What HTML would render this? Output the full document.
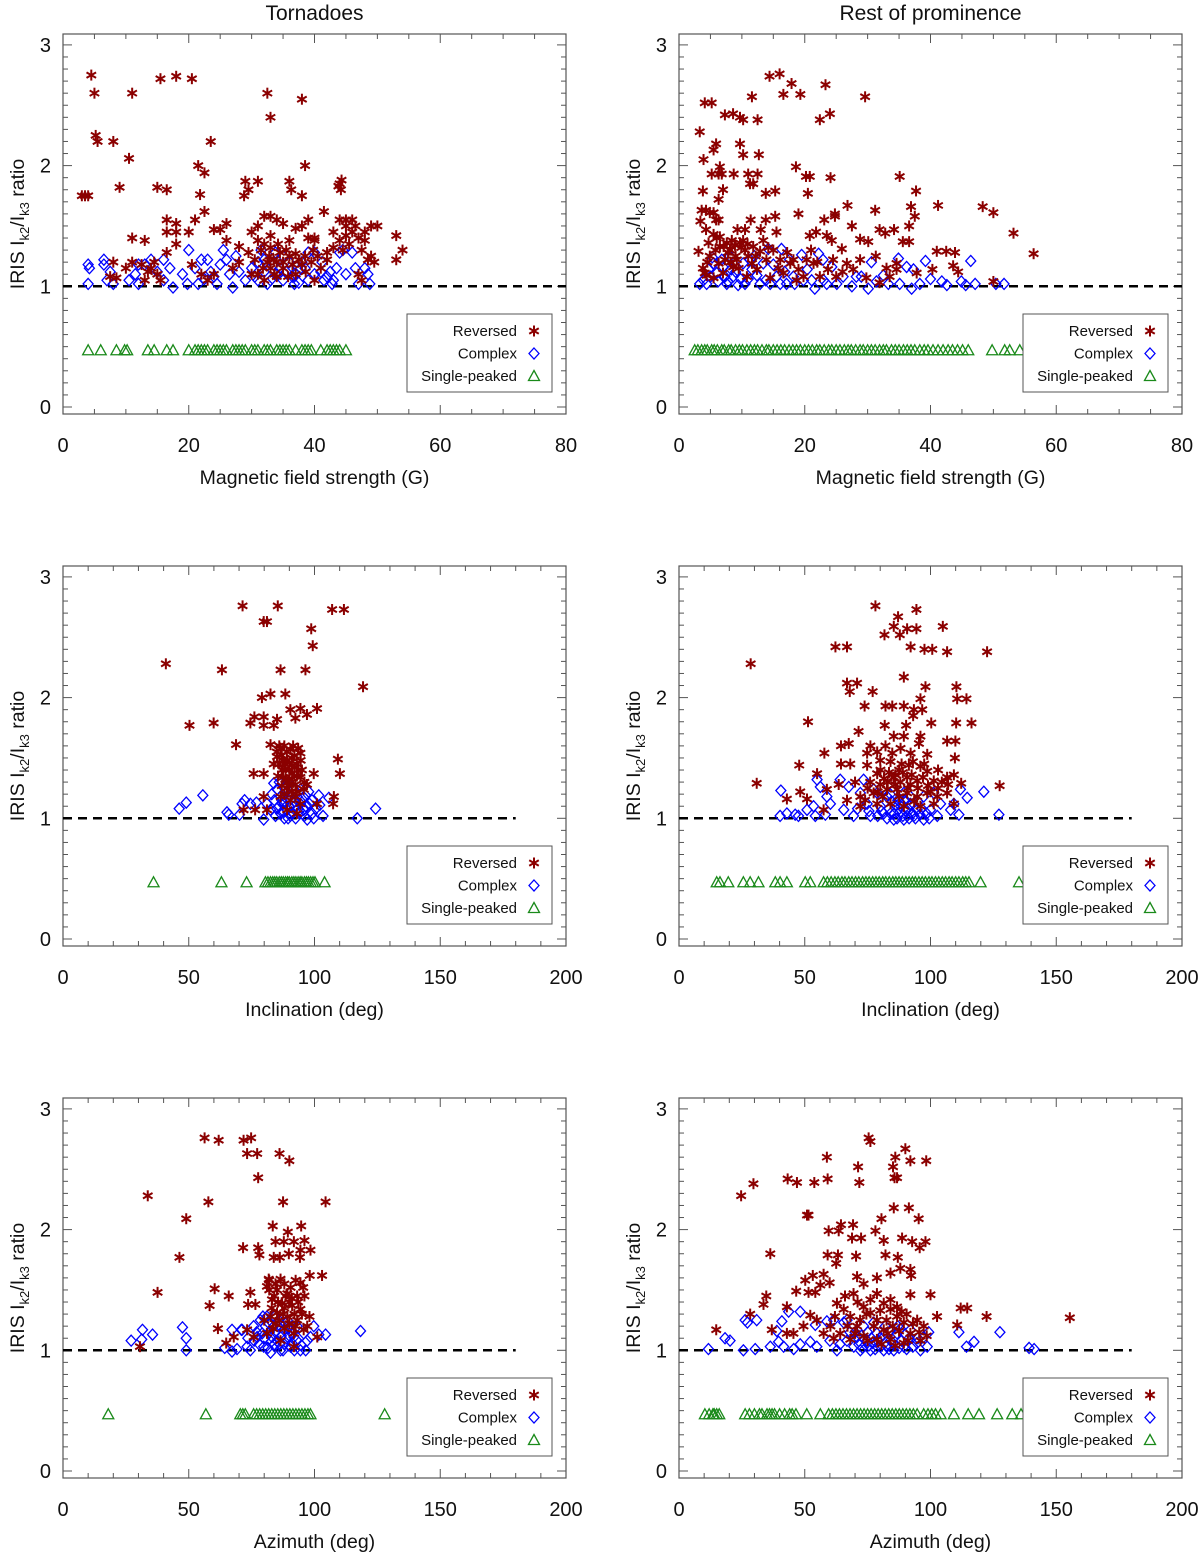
<!DOCTYPE html>
<html><head><meta charset="utf-8"><style>
html,body{margin:0;padding:0;background:#fff;}
svg{display:block;font-family:"Liberation Sans",Arial,sans-serif;}
</style></head><body>
<svg id="chart" width="1200" height="1556" viewBox="0 0 1200 1556" xmlns="http://www.w3.org/2000/svg"></svg>
<script>
// ---------- Panel 1: Tornadoes, magnetic field strength ----------
const p1Rev = [[4.5,2.75],[5,2.6],[5.2,2.25],[5.5,2.2],[8,2.2],[3,1.75],[4,1.75],[3.5,1.75],[9,1.82],[10.5,2.06],[11,2.6],[15.5,2.72],[18,2.74],[20.5,2.72],[15,1.82],[16.5,1.8],[23.5,2.2],[21.5,2.0],[22.5,1.94],[21.8,1.76],[32.5,2.6],[33,2.4],[38,2.55],[38.5,2.0],[29,1.87],[29.5,1.8],[31,1.87],[36,1.87],[36.3,1.8],[38,1.75],[44,1.85],[44.2,1.8],[44.3,1.88],[43.8,1.83],[28.8,1.75],[22.5,1.62],[41.5,1.62],[16.5,1.55],[18,1.52],[21,1.55],[26,1.52],[24,1.47],[25,1.47],[16.5,1.45],[18,1.45],[20,1.45],[11,1.4],[13,1.38],[18,1.35],[26,1.38],[28,1.33],[16.5,1.28],[30,1.45],[31,1.5],[32,1.58],[33,1.58],[34,1.55],[35,1.52],[37,1.48],[38,1.5],[39,1.55],[40,1.4],[40,1.38],[39,1.4],[36,1.38],[33,1.42],[31,1.38],[32,1.35],[29.5,1.28],[34.5,1.28],[36,1.25],[37,1.27],[38.5,1.25],[42,1.28],[43,1.32],[44,1.38],[44,1.55],[45,1.55],[46,1.55],[45,1.5],[46.5,1.5],[47,1.4],[48,1.45],[48,1.38],[49,1.5],[50,1.5],[48.5,1.22],[49.5,1.2],[49,1.25],[53,1.42],[54,1.3],[53,1.22],[45,1.42],[43,1.45],[42,1.22],[35,1.2],[33,1.15],[31,1.1],[30,1.1],[10,1.15],[11,1.2],[8,1.2],[14,1.15],[15,1.1],[13,1.05],[7.5,1.08],[8.5,1.07],[20.5,1.18],[22,1.1],[23,1.05],[24,1.1],[27,1.15],[28,1.2],[41,1.15],[47,1.1],[47.5,1.05],[40,1.05],[37,1.1],[34,1.08],[32,1.05],[33.5,1.22],[35.5,1.3],[32.5,1.2],[38,1.18],[39.5,1.2],[31.5,1.3],[32.8,1.25],[34,1.2],[35,1.15],[36.5,1.18],[37.5,1.22],[33,1.32],[34.2,1.35],[30.5,1.22],[31.8,1.15],[33.6,1.1],[35.8,1.08],[38.6,1.12],[39.8,1.3],[40.5,1.25],[14.5,1.2],[13.5,1.12],[12.5,1.18],[15.5,1.05],[45.5,1.35],[46,1.45],[44.5,1.3],[47.5,1.3]];
const p1Cpx = [[4,1.18],[4.2,1.15],[4,1.02],[6.5,1.22],[6.5,1.18],[7,1.05],[7.5,1.12],[8,1.02],[10.5,1.05],[11.5,1.1],[12,1.18],[12,1.02],[13,1.18],[14,1.22],[15,1.12],[16,1.22],[16,1.05],[17,1.15],[17.5,0.99],[19,1.1],[19.8,1.02],[20,1.3],[21,1.15],[21.5,1.02],[22,1.22],[23,1.22],[23.5,1.12],[24,1.08],[25,1.18],[25.5,1.3],[26,1.22],[26.5,1.1],[27,0.99],[27.5,1.25],[28,1.12],[29,1.05],[30,1.15],[31,1.2],[31,1.05],[31.5,1.3],[32,1.22],[32,1.12],[33,1.05],[33.5,1.18],[34,1.1],[35,1.25],[35,1.05],[36,1.15],[36.5,1.08],[37,1.1],[37.5,1.03],[38,1.2],[38.5,1.15],[39,1.28],[40,1.28],[40,1.1],[41,1.12],[41.5,1.05],[42,1.08],[42.5,1.12],[43,1.05],[43.5,1.15],[44,1.28],[44.5,1.3],[45,1.1],[46,1.28],[46.5,1.15],[47,1.02],[48,1.15],[48.5,1.1],[48.8,1.02],[34.5,1.15],[36,1.2],[39,1.05],[30.5,1.08],[32.5,1.02],[33.8,1.28],[36.8,1.02],[37.8,1.15],[35.5,1.12],[41.2,1.2],[42.8,1.02],[24.5,1.02],[22.5,1.06]];
const p1Sgl = [4,6,8.5,9.8,10.2,13.5,14.5,16.5,17.5,20,21,21.5,22,22.5,23,24,24.5,25,25.5,26,27,27.5,28,28.5,29,30,30.5,31,32,32.5,33,34,34.5,35,35.5,36,37,38,38.5,39,39.5,41,42,42.5,43,43.5,44,45];

// ---------- Panel 2: Rest of prominence, magnetic field strength ----------
const p2Rev = [[3.3,2.28],[4.1,2.52],[5.2,2.52],[3.9,2.05],[5.5,2.13],[5.9,2.18],[7.3,2.42],[8.6,2.43],[9.7,2.4],[10.2,2.38],[11.6,2.57],[12.5,2.38],[14.4,2.74],[16,2.76],[17.9,2.68],[16.6,2.59],[19.3,2.59],[23.3,2.67],[22.4,2.38],[24,2.43],[29.6,2.57],[9.7,2.18],[10.2,2.09],[12.7,2.09],[18.6,1.99],[6.5,1.99],[6.8,1.93],[5.2,1.93],[6.3,1.93],[8.7,1.93],[11,1.93],[12.5,1.93],[11.3,1.85],[11.8,1.85],[20.2,1.91],[20.8,1.91],[24.1,1.9],[3.8,1.79],[7,1.8],[6.3,1.72],[13.8,1.77],[15.3,1.79],[20.5,1.77],[35.1,1.91],[37.7,1.79],[3.6,1.63],[4.3,1.63],[4.9,1.61],[5.5,1.61],[5.9,1.55],[6.3,1.55],[3.4,1.54],[4.3,1.47],[11.4,1.55],[13.8,1.55],[15.3,1.58],[19,1.6],[23.1,1.55],[24.8,1.6],[24.8,1.58],[26.8,1.67],[31.2,1.63],[36.9,1.66],[37.5,1.58],[41.2,1.67],[48.3,1.66],[50,1.61],[53.2,1.44],[56.4,1.27],[9.3,1.47],[10.5,1.47],[13,1.47],[15.5,1.45],[20.8,1.42],[21.8,1.45],[23.5,1.42],[24.3,1.38],[27.5,1.5],[31.9,1.47],[32.8,1.44],[34.2,1.47],[36.6,1.5],[28.8,1.39],[30.1,1.37],[35.6,1.37],[36.6,1.37],[25.9,1.31],[41,1.29],[42.5,1.29],[43.9,1.28],[43.6,1.17],[44.4,1.12],[40.3,1.14],[31.3,1.25],[33,1.15],[34.6,1.19],[37.8,1.11],[50,1.04],[3.1,1.29],[4.7,1.36],[5.5,1.43],[6,1.4],[6.5,1.33],[4.9,1.25],[7.6,1.36],[8.1,1.3],[8.9,1.34],[9.7,1.36],[10.5,1.3],[11,1.25],[11.8,1.33],[12.9,1.29],[13.9,1.22],[15,1.3],[16.1,1.22],[17.7,1.19],[19,1.14],[20.3,1.22],[21.4,1.19],[22.4,1.08],[23.7,1.14],[25,1.08],[26.7,1.19],[27.7,1.14],[28.8,1.22],[29.8,1.07],[31.9,1.03],[33.5,1.08],[34.6,1.14],[6.3,1.19],[7,1.11],[8.6,1.16],[10.8,1.08],[12.4,1.14],[14.5,1.07],[16.6,1.11],[18.7,1.05],[4.4,1.09],[4.1,1.11],[5.5,1.07],[7.3,1.22],[9.2,1.22],[10.2,1.38],[11.6,1.19],[13.4,1.38],[6.5,1.41],[7.8,1.28],[8.4,1.38],[9,1.25],[9.9,1.32],[10.9,1.35],[12.2,1.25],[7.1,1.33],[8.2,1.2],[9.5,1.15],[5.8,1.3],[4.5,1.2],[3.8,1.15],[14.2,1.32],[15.8,1.15],[17.2,1.28],[18.2,1.22],[19.8,1.08],[21,1.3],[22,1.2],[24.5,1.22],[26,1.12]];
const p2Cpx = [[3.3,1.02],[3.9,1.05],[4.4,1.02],[5.5,1.19],[6,1.11],[6.8,1.22],[7.6,1.02],[8.1,1.25],[8.6,1.08],[9.4,1.01],[10.2,1.19],[10.5,1.02],[11.6,1.14],[12.9,1.02],[14.2,1.31],[14.5,1.02],[15.5,1.08],[16.3,1.31],[16.1,1.02],[17.6,1.22],[18.4,1.02],[19.5,1.26],[19.8,1.05],[21.1,1.05],[21.6,0.98],[22.2,1.27],[22.9,1.22],[24.3,1.16],[25.1,1.02],[26.1,1.08],[27.5,1.0],[28.2,1.08],[29,1.08],[30.1,0.98],[30.6,1.2],[31.4,1.04],[32.5,1.09],[33.3,1.02],[34.9,1.23],[35.1,1.02],[36.2,1.16],[37,0.98],[37.3,1.14],[38.3,1.02],[39.2,1.21],[40,1.06],[41.8,1.04],[42.6,1.01],[44.9,1.04],[45.6,1.01],[46.4,1.21],[47.1,1.02],[50.4,1.02],[51.7,1.02],[7.3,1.08],[13.4,1.19],[17.1,1.02],[23.5,1.02],[9,1.12],[11,1.06],[12,1.25],[5,1.08],[6.2,1.04],[7,1.16],[8.3,1.14],[9.8,1.06],[11.3,1.22],[12.4,1.09],[13.8,1.05],[15,1.18],[16.8,1.12],[18.2,1.08],[20.4,1.14],[23,1.05],[5.3,1.24],[7.8,1.04],[4.7,1.14]];
const p2Sgl = [2.5,3,3.6,4.1,4.5,5.2,5.6,6.1,6.8,7.2,7.9,8.3,9,9.6,10.1,10.8,11.4,12,12.5,13.2,13.9,14.3,15,15.6,16.2,16.8,17.5,18.1,18.7,19.3,20,20.6,21.2,21.9,22.4,23.1,23.8,24.3,25,25.6,26.3,26.9,27.4,28.1,28.8,29.3,30,30.6,31.2,31.9,32.5,33,33.8,34.4,35,35.7,36.3,36.9,37.5,38.3,39,39.6,40.4,41.2,42,42.8,43.5,44.3,45.1,46,49.8,51.8,52.6,54.2];

// ---------- Panel 3: Tornadoes, inclination ----------
const p3Rev = [[71.4,2.76],[85.4,2.76],[79.8,2.63],[81.1,2.63],[107,2.73],[111.7,2.73],[98.7,2.57],[99.3,2.43],[40.9,2.28],[63.2,2.23],[86.5,2.23],[96.4,2.23],[119.3,2.09],[79.1,2.0],[82.5,2.03],[88.4,2.03],[50.3,1.77],[59.9,1.79],[74.5,1.79],[76.1,1.84],[79.8,1.84],[79.8,1.77],[83.8,1.77],[85.1,1.82],[90.4,1.9],[94.4,1.91],[92.4,1.83],[97,1.86],[101,1.91],[68.8,1.61],[82.5,1.61],[86.5,1.58],[90.4,1.57],[94.4,1.54],[85.1,1.51],[89.1,1.48],[93,1.45],[83.8,1.45],[87.1,1.4],[91.1,1.37],[94.4,1.34],[88.4,1.32],[92.4,1.28],[95.7,1.24],[75.8,1.37],[79.8,1.37],[99.7,1.37],[109.3,1.49],[110.1,1.37],[79.8,1.18],[107.7,1.18],[107.4,1.12],[71.8,1.07],[76.4,1.07],[81.1,1.07],[101,1.12],[86.5,1.18],[90.4,1.15],[94.4,1.12],[89.1,1.07],[93,1.04],[87,1.52],[89,1.55],[91,1.5],[92,1.42],[88,1.45],[90,1.4],[93,1.35],[89.5,1.3],[96,1.3],[91,1.22],[87,1.27],[86,1.6],[88,1.6],[91.5,1.6],[93.5,1.58],[85,1.55],[87.5,1.48],[90,1.46],[92,1.52],[94.5,1.48],[86,1.45],[88.5,1.4],[91,1.44],[93.5,1.4],[85.5,1.35],[87.5,1.34],[90,1.33],[92,1.35],[95,1.4],[89,1.25],[93,1.22],[97,1.28],[88,1.2],[90,1.28],[92.5,1.18]];
const p3Cpx = [[46.2,1.08],[49,1.13],[55.6,1.19],[65.2,1.05],[65.9,1.03],[70.2,1.03],[71.2,1.12],[72.2,1.15],[74.5,1.12],[76.9,1.13],[79.8,0.99],[81.1,1.12],[82.5,1.07],[83.8,1.29],[85.1,1.24],[86.5,1.18],[87.8,1.12],[89.1,1.07],[90.4,1.02],[91.8,1.24],[93.1,1.18],[94.4,1.12],[95.7,1.07],[97.1,0.99],[86.5,1.04],[88.4,1.21],[91.1,1.26],[94.4,1.24],[96.4,1.19],[97.7,1.22],[99.1,1.04],[99.7,1.0],[101.7,1.19],[102.1,1.11],[103.4,1.02],[105.7,1.17],[117,1.0],[124.3,1.08],[84,1.15],[88,1.0],[92,1.1],[90,1.2],[86,1.3],[85,1.08],[87,1.15],[89,1.16],[91,1.05],[92.5,1.0],[93.5,1.08],[95,1.16],[96,1.02],[98,1.12],[84.5,1.02],[86,1.1],[88,1.25],[90,1.1],[89.5,1.0],[92,1.14],[94,1.04],[87.5,1.06],[83,1.2],[96.5,1.1],[99,1.15],[100.5,1.08]];
const p3Sgl = [36,63,73,80.5,81.5,82.5,83.4,84.2,85,86,86.8,87.6,88.5,89.3,90,91,91.8,92.6,93.5,94.3,95,96,96.8,97.6,98.5,99.4,100.2,104];

// ---------- Panel 4: Rest of prominence, inclination ----------
const p4Rev = [[78.1,2.76],[94.4,2.73],[87.1,2.67],[85.4,2.59],[90.7,2.57],[94.4,2.57],[81.7,2.52],[87.8,2.52],[104.9,2.59],[92.1,2.42],[97.6,2.4],[100.7,2.4],[106.6,2.38],[122.5,2.38],[62.2,2.42],[66.8,2.42],[28.5,2.28],[89.4,2.17],[66.8,2.12],[70.8,2.12],[67.9,2.05],[77,2.05],[98,2.09],[110.3,2.09],[96,1.99],[110.6,1.99],[114.3,1.99],[73.8,1.93],[82.1,1.93],[84.8,1.93],[89.4,1.93],[93.4,1.9],[96.7,1.9],[93.1,1.85],[51.3,1.8],[81.8,1.77],[90.3,1.77],[100.3,1.79],[110.2,1.79],[116.3,1.79],[71.4,1.72],[85.4,1.68],[89.4,1.68],[96,1.68],[106.6,1.64],[109.9,1.64],[64.4,1.6],[67.5,1.62],[76.1,1.6],[82.1,1.6],[88.1,1.58],[95.4,1.62],[57.8,1.54],[74.8,1.54],[78.8,1.55],[84.8,1.54],[92.1,1.54],[98.7,1.53],[109.7,1.5],[47.8,1.44],[64.4,1.45],[68.1,1.45],[74.8,1.44],[80.1,1.4],[84.1,1.47],[87.5,1.4],[91.4,1.44],[96,1.43],[98.7,1.39],[54.9,1.37],[63.5,1.28],[78.8,1.37],[85.4,1.34],[90.7,1.34],[94.7,1.31],[101.3,1.31],[106.6,1.34],[109.3,1.36],[112.2,1.29],[30.9,1.29],[127.5,1.27],[48.2,1.22],[58.8,1.24],[66.8,1.15],[72.1,1.18],[77.4,1.21],[82.7,1.24],[86.7,1.24],[90.7,1.21],[94.7,1.18],[98.7,1.21],[102.7,1.18],[106.6,1.21],[42.9,1.16],[50.9,1.16],[57.5,1.07],[72.1,1.1],[78.8,1.12],[84.1,1.12],[89.4,1.1],[96,1.1],[101.3,1.12],[109.3,1.12],[88,1.3],[92,1.28],[83,1.3],[86,1.36],[99,1.27],[76,1.3],[80,1.28],[81,1.18],[83.5,1.38],[86,1.28],[87.5,1.18],[89,1.38],[91,1.25],[92.5,1.36],[93.5,1.14],[95,1.25],[97,1.34],[100,1.22],[103,1.25],[104.5,1.3],[81.5,1.33],[79,1.22],[75,1.25],[70,1.3],[74,1.15],[88.5,1.45],[93,1.47],[97.5,1.45],[80,1.48],[103,1.4],[107,1.28]];
const p4Cpx = [[40.5,1.23],[40.2,1.02],[42.9,1.04],[46.2,1.03],[47.5,1.02],[50.9,1.07],[54.9,1.32],[56.2,1.26],[58.8,1.18],[60.2,1.12],[54.2,1.02],[58.2,1.03],[64.1,1.32],[67.5,1.26],[65.5,1.07],[69.4,1.02],[72.1,1.21],[73.4,1.32],[74.8,1.12],[76.1,1.02],[77.4,1.24],[80.1,1.1],[82.7,1.18],[84.1,1.04],[85.4,0.99],[88.1,1.1],[90.7,1.02],[92.1,1.12],[94.7,1.07],[97.3,0.99],[100,1.07],[102.7,1.02],[104,1.12],[108,1.07],[109.3,1.12],[111.3,1.03],[111.9,1.24],[114.6,1.17],[121.2,1.22],[127.2,1.03],[53.5,1.1],[97.3,1.18],[101.3,1.21],[89.4,1.21],[78.8,1.21],[86.7,1.0],[89.4,0.99],[93.4,1.02],[82.7,1.0],[81.4,1.04],[87,1.15],[91,1.08],[95,1.14],[84,1.2],[79,1.02],[80.5,1.06],[83.5,1.08],[85.5,1.04],[87.8,1.05],[89,1.02],[90,1.06],[91.5,1.0],[92.8,1.04],[94,1.0],[95.8,1.03],[96.5,1.08],[98.5,1.04],[99.5,1.0],[86,1.11],[88,1.13],[90,1.15],[84.5,1.14],[92,1.18],[75.5,1.06],[71,1.08]];
const p4Sgl = [15,16.3,19.6,25.6,28.3,31.6,38.3,40.2,42.9,50.2,52.2,57.5,59,60.5,62,63.3,64.8,66,67.5,68.8,70.2,71.5,73,74.3,75.6,77,78.3,79.6,81,82.2,83.6,85,86.2,87.5,88.8,90.2,91.5,92.8,94,95.4,96.7,98,99.4,100.6,102,103.3,104.7,106,107.4,108.6,110,111.3,112.8,114,115.3,119.9,135.2];

// ---------- Panel 5: Tornadoes, azimuth ----------
const p5Rev = [[56.3,2.76],[61.9,2.74],[71.8,2.74],[74.8,2.76],[73.2,2.63],[77.2,2.63],[86.1,2.63],[90,2.57],[77.6,2.43],[33.7,2.28],[57.8,2.23],[87.5,2.23],[104.4,2.23],[49,2.09],[83.4,2.03],[89.4,1.98],[94.7,2.03],[84.5,1.9],[87.8,1.9],[91.8,1.9],[96,1.91],[98.4,1.83],[94.4,1.83],[89.8,1.8],[83.8,1.77],[86.2,1.77],[94.2,1.77],[71.6,1.85],[77.6,1.85],[78.1,1.79],[46.3,1.77],[98.1,1.62],[103,1.62],[81.8,1.59],[86.5,1.59],[94.4,1.56],[37.6,1.48],[60.3,1.51],[65.9,1.45],[74.5,1.48],[81.1,1.53],[85.1,1.5],[89.2,1.47],[93.1,1.45],[83.1,1.42],[87.1,1.39],[91.1,1.37],[94.4,1.34],[85.1,1.31],[89.2,1.28],[93.1,1.25],[97.1,1.2],[58.3,1.37],[73.6,1.38],[76.5,1.38],[61.6,1.18],[30.6,1.03],[64.9,1.06],[67.9,1.11],[73.2,1.17],[75.8,1.11],[81.1,1.14],[86.5,1.08],[91.8,1.14],[95.7,1.17],[101.1,1.11],[91.8,1.03],[82,1.5],[84,1.45],[88,1.35],[90,1.4],[86,1.25],[92,1.3],[82,1.58],[84.5,1.55],[88,1.55],[90.5,1.52],[92.5,1.58],[95.5,1.52],[83,1.35],[85.5,1.4],[88.5,1.45],[91,1.43],[93.5,1.4],[96,1.45],[82.5,1.28],[84.5,1.22],[87.5,1.3],[90,1.22],[92.5,1.2],[95,1.3],[98,1.28],[80,1.25],[88,1.18],[83.5,1.18]];
const p5Cpx = [[27.1,1.08],[31.3,1.09],[31.6,1.17],[35.6,1.13],[47.5,1.19],[49,1.1],[49,1.0],[64.3,1.02],[67.2,0.99],[69.2,1.01],[71.2,1.17],[73.2,1.03],[74.5,1.0],[75.8,1.2],[77.2,1.11],[78.5,1.25],[79.8,1.03],[81.1,1.28],[82.5,0.98],[83.8,1.2],[85.1,1.08],[86.5,1.0],[87.8,1.17],[89.2,1.25],[90.5,1.03],[91.8,1.11],[93.1,1.2],[94.4,1.0],[95.7,1.14],[97.1,1.08],[98.4,1.11],[99.7,1.2],[101.7,1.13],[104.4,1.13],[118.3,1.16],[67.2,1.17],[70.9,1.17],[79.2,1.14],[83.1,1.11],[85.8,1.25],[80.5,1.2],[84,1.05],[88,1.05],[82,1.15],[90,1.12],[78,1.05],[80,1.1],[81.5,1.02],[82.8,1.07],[84.5,1.15],[85.5,1.2],[86.8,1.12],[87.5,1.0],[88.8,1.1],[89.5,1.18],[91,1.06],[92,1.0],[93,1.08],[94.8,1.04],[96.5,1.0],[77,1.15],[79.5,1.28],[82,1.22],[84,1.28],[86.2,1.05],[88.5,1.22],[91.5,1.15],[76,1.08],[73.5,1.1]];
const p5Sgl = [18,56.8,70.5,71.5,72.5,75.8,77,78.2,79.4,80.6,81.8,83,84.2,85.4,86.6,87.8,89,90.2,91.4,92.6,93.8,95,96.2,97.4,98.4,127.9,139.6,142];

// ---------- Panel 6: Rest of prominence, azimuth ----------
const p6Rev = [[75.4,2.76],[76.1,2.73],[90,2.67],[58.8,2.6],[86,2.6],[92,2.57],[98.3,2.57],[71.2,2.52],[85.1,2.52],[85.7,2.43],[86.7,2.43],[59.1,2.42],[71.7,2.39],[43.2,2.42],[46.9,2.39],[53.8,2.39],[29.6,2.38],[24.7,2.28],[85.4,2.18],[91.4,2.18],[95.3,2.09],[80.5,2.09],[50.9,2.12],[51.5,2.12],[36.3,1.8],[59.5,1.99],[63.5,1.99],[64.4,2.04],[69.2,2.04],[68.8,1.93],[72.4,1.93],[78.1,1.99],[81.4,1.91],[88.7,1.93],[92.7,1.9],[95.7,1.85],[98,1.9],[59.1,1.79],[63.2,1.79],[62.5,1.72],[70.4,1.78],[82.1,1.79],[87,1.77],[88,1.68],[92,1.67],[92.3,1.62],[50.2,1.58],[53.2,1.62],[57.5,1.63],[59.9,1.56],[56.2,1.54],[46.6,1.49],[51.5,1.48],[54.2,1.48],[34.7,1.45],[33.6,1.38],[42.9,1.36],[28.3,1.3],[14.8,1.17],[36.9,1.17],[52.2,1.29],[70.8,1.61],[73.4,1.55],[78.7,1.6],[84.1,1.64],[69.4,1.47],[78.7,1.47],[84.1,1.42],[92,1.46],[100,1.46],[102.6,1.28],[112,1.35],[114.6,1.35],[122.3,1.28],[110.6,1.21],[155.4,1.27],[62.8,1.39],[65.5,1.34],[68.1,1.28],[70.8,1.2],[73.4,1.36],[76.1,1.31],[78.7,1.25],[81.4,1.17],[84.1,1.34],[86.7,1.28],[89.4,1.23],[92,1.14],[94.7,1.25],[97.3,1.2],[60.2,1.2],[64.1,1.14],[68.1,1.09],[73.4,1.12],[78.7,1.09],[84.1,1.09],[89.4,1.06],[76.1,1.42],[81.4,1.39],[86.7,1.36],[54.8,1.25],[57.5,1.14],[49.5,1.2],[45.5,1.14],[42.9,1.14],[66,1.45],[71,1.4],[74.5,1.3],[77.5,1.2],[80,1.33],[82.5,1.25],[85,1.2],[87.5,1.16],[88.5,1.32],[90.5,1.3],[93,1.22],[95.5,1.15],[70,1.14],[72,1.25],[75,1.08],[80.5,1.05],[83,1.14],[86,1.04],[91,1.08],[96,1.08],[98.5,1.12],[62,1.28],[67,1.2],[61.5,1.1]];
const p6Cpx = [[11.7,1.01],[18.3,1.1],[20.3,1.08],[26.3,1.25],[27.2,1.23],[30.9,1.25],[25.6,1.0],[30.3,1.01],[36.3,1.03],[39.6,1.07],[40.9,1.24],[43.6,1.32],[48.2,1.32],[38.9,1.16],[41.6,1.03],[45.6,1.01],[48.2,1.05],[52.2,1.07],[54.8,1.03],[54.2,1.21],[58.8,1.24],[61.5,1.25],[62.8,1.0],[65.5,1.23],[66.8,1.08],[69.5,1.03],[70.8,1.11],[72.1,1.0],[73.4,1.2],[74.8,1.08],[76.1,1.0],[78.7,1.14],[80.1,1.03],[81.4,1.0],[84.1,1.08],[85.4,1.0],[86.7,1.14],[89.4,1.03],[92,1.17],[94.7,1.06],[96,1.0],[97.3,1.11],[98.7,1.03],[99.3,1.15],[111.3,1.15],[114.3,1.03],[117.3,1.07],[127.6,1.15],[139.2,1.02],[141.2,1.01],[66.8,1.25],[77.4,1.23],[82,1.2],[88,1.18],[75,1.15],[80,1.1],[71.5,1.05],[73,1.02],[75.5,1.04],[77,1.06],[78,1.01],[79,1.08],[82.5,1.04],[83.5,1.01],[85,1.06],[87.5,1.02],[88.5,1.08],[90.5,1.01],[91.5,1.1],[93,1.03],[95,1.1],[70,1.15],[72.5,1.12],[76.5,1.1],[81,1.13],[84,1.16],[87,1.2],[90,1.13],[64,1.05],[68,1.15],[60,1.08]];
const p6Sgl = [10.3,12,13.5,14,15,16,26.3,28,30,32,33,35,36,37,38,40,42,44,45,46.5,50.8,56.2,59.5,61,62.4,63.8,65.2,66.6,68,69.4,70.8,72.2,73.6,75,76.4,77.8,79.2,80.6,82,83.4,84.8,86.2,87.6,89,90.4,91.8,93.2,94.7,97.3,99,100.5,102,104,109.3,115,119.3,126.5,132.5,136];

// ---------- axis configuration ----------
const xMaxes = [80, 80, 200, 200, 200, 200];
const xTickLabels80 = [0, 20, 40, 60, 80];
const xTickLabels200 = [0, 50, 100, 150, 200];
const yTickLabels = [0, 1, 2, 3];
const xTitles = ["Magnetic field strength (G)", "Inclination (deg)", "Azimuth (deg)"];
const colTitles = ["Tornadoes", "Rest of prominence"];
const dashedEnd = [80, 80, 180, 180, 180, 180];
const revSets = [p1Rev, p2Rev, p3Rev, p4Rev, p5Rev, p6Rev];
const cpxSets = [p1Cpx, p2Cpx, p3Cpx, p4Cpx, p5Cpx, p6Cpx];
const sglSets = [p1Sgl, p2Sgl, p3Sgl, p4Sgl, p5Sgl, p6Sgl];
const singleY = 0.47;

const NS = "http://www.w3.org/2000/svg";
const svg = document.getElementById("chart");
function mk(tag, attrs, parent) {
  const e = document.createElementNS(NS, tag);
  for (const k in attrs) e.setAttribute(k, attrs[k]);
  (parent || svg).appendChild(e);
  return e;
}
const FL = [63, 679], FW = 503, FH = 380, FT0 = 34, ROWH = 532;
const YPX = 120.7;
function sx(p, v) { return FL[p % 2] + v / xMaxes[p] * FW; }
function sy(p, v) { const r = Math.floor(p / 2); return 407 + r * ROWH - v * YPX; }

const RED = "#8b0000", BLUE = "#0000ff", GREEN = "#1a8a1a";
function star(g, x, y) {
  const s = mk("g", {}, g);
  
  
  const r = 5.5;
  mk("line", {x1: x, y1: y - r, x2: x, y2: y + r, stroke: RED, "stroke-width": 2}, s);
  mk("line", {x1: x - r * 0.87, y1: y - r * 0.5, x2: x + r * 0.87, y2: y + r * 0.5, stroke: RED, "stroke-width": 2}, s);
  mk("line", {x1: x - r * 0.87, y1: y + r * 0.5, x2: x + r * 0.87, y2: y - r * 0.5, stroke: RED, "stroke-width": 2}, s);
  return s;
}
function diamond(g, x, y) {
  const d = mk("path", {d: `M${x} ${y - 5.5}L${x + 5} ${y}L${x} ${y + 5.5}L${x - 5} ${y}Z`, fill: "none", stroke: BLUE, "stroke-width": 1.3}, g);
  
  
  return d;
}
function tri(g, x, y) {
  const t = mk("path", {d: `M${x} ${y - 5.5}L${x + 5.5} ${y + 4.5}L${x - 5.5} ${y + 4.5}Z`, fill: "none", stroke: GREEN, "stroke-width": 1.3}, g);
  
  
  return t;
}

for (const c of [0, 1]) {
  const t = mk("text", {x: FL[c] + FW / 2, y: 20, "text-anchor": "middle", "font-size": 21, fill: "#111"});
  
  
  t.textContent = colTitles[c];
}

for (let p = 0; p < 6; p++) {
  const r = Math.floor(p / 2), c = p % 2;
  const L = FL[c], T = FT0 + r * ROWH, B = T + FH, R = L + FW;
  const g = mk("g", {});
  
  
  const fr = mk("rect", {x: L, y: T, width: FW, height: FH, fill: "none", stroke: "#555", "stroke-width": 1.2}, g);
  
  
  const xm = xMaxes[p];
  const minorStep = xm === 80 ? 5 : 10, majorStep = xm === 80 ? 20 : 50;
  const xLabs = xm === 80 ? xTickLabels80 : xTickLabels200;
  for (let v = 0; v <= xm + 1e-9; v += minorStep) {
    const X = sx(p, v), len = (v % majorStep === 0) ? 9 : 5;
    mk("line", {x1: X, y1: B, x2: X, y2: B - len, stroke: "#555", "stroke-width": 1}, g);
    mk("line", {x1: X, y1: T, x2: X, y2: T + len, stroke: "#555", "stroke-width": 1}, g);
  }
  const xax = mk("g", {}, g);
  
  
  for (const v of xLabs) {
    const t = mk("text", {x: sx(p, v), y: B + 38, "text-anchor": "middle", "font-size": 20, fill: "#111"}, xax);
    t.textContent = v;
  }
  for (let i = 0; i <= 30; i++) {
    const v = i / 10, Y = sy(p, v);
    if (Y < T || Y > B) continue;
    const len = (i % 10 === 0) ? 9 : 5;
    mk("line", {x1: L, y1: Y, x2: L + len, y2: Y, stroke: "#555", "stroke-width": 1}, g);
    mk("line", {x1: R, y1: Y, x2: R - len, y2: Y, stroke: "#555", "stroke-width": 1}, g);
  }
  const yax = mk("g", {}, g);
  
  
  for (const v of yTickLabels) {
    const t = mk("text", {x: L - 12, y: sy(p, v) + 7, "text-anchor": "end", "font-size": 20, fill: "#111"}, yax);
    t.textContent = v;
  }
  const xt = mk("text", {x: L + FW / 2, y: B + 70, "text-anchor": "middle", "font-size": 19.5, fill: "#111"}, g);
  
  
  xt.textContent = xTitles[r];
  const yt = mk("text", {transform: `translate(${L - 39},${T + 190}) rotate(-90)`, "text-anchor": "middle", "font-size": 19.5, fill: "#111"}, g);
  
  
  yt.innerHTML = 'IRIS I<tspan font-size="13" dy="5">k2</tspan><tspan dy="-5">/I</tspan><tspan font-size="13" dy="5">k3</tspan><tspan dy="-5"> ratio</tspan>';
  const dl = mk("line", {x1: sx(p, 0), y1: sy(p, 1), x2: sx(p, dashedEnd[p]), y2: sy(p, 1), stroke: "#000", "stroke-width": 2.5, "stroke-dasharray": "9 6"}, g);
  
  
  const gs = mk("g", {}, g);
  
  
  for (const v of sglSets[p]) tri(gs, sx(p, v), sy(p, singleY));
  const gc = mk("g", {}, g);
  
  
  const gr = mk("g", {}, g);
  
  
  for (const d of revSets[p]) star(gr, sx(p, d[0]), sy(p, d[1]));
  for (const d of cpxSets[p]) diamond(gc, sx(p, d[0]), sy(p, d[1]));
  const lg = mk("g", {}, g);
  
  
  const lx = L + 344, ly = T + 280;
  mk("rect", {x: lx, y: ly, width: 145, height: 78, fill: "#fff", stroke: "#555", "stroke-width": 1}, lg);
  const names = ["Reversed", "Complex", "Single-peaked"];
  for (let i = 0; i < 3; i++) {
    const yy = ly + 17 + i * 22.5;
    const e = mk("g", {}, lg);
    
    
    const t = mk("text", {x: lx + 110, y: yy + 5, "text-anchor": "end", "font-size": 15, fill: "#111"}, e);
    t.textContent = names[i];
    if (i === 0) star(e, lx + 127, yy);
    else if (i === 1) diamond(e, lx + 127, yy);
    else tri(e, lx + 127, yy);
  }
}
</script>
</body></html>
